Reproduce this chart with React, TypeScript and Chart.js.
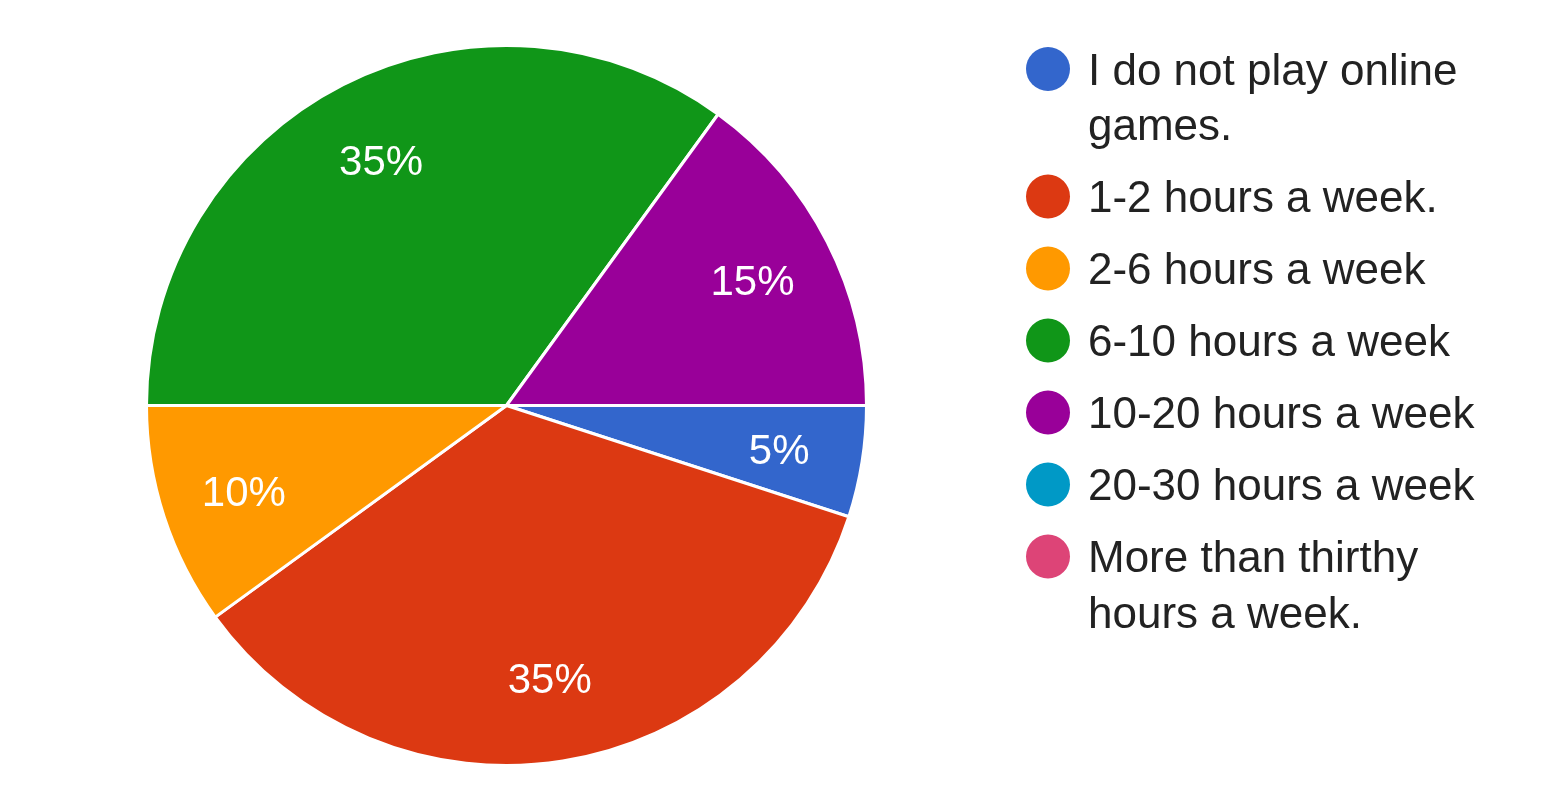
import React, { useEffect, useRef } from "react";
import { Chart, registerables } from "chart.js";

Chart.register(...registerables);

const categories: string[] = [
  "I do not play online games.",
  "1-2 hours a week.",
  "2-6 hours a week",
  "6-10 hours a week",
  "10-20 hours a week",
  "20-30 hours a week",
  "More than thirthy hours a week.",
];
const values: number[] = [5, 35, 10, 35, 15, 0, 0];
const colors: string[] = ["#3366CC", "#DC3912", "#FF9900", "#109618", "#990099", "#0099C6", "#DD4477"];

const FONT = '"Liberation Sans", Arial, Helvetica, sans-serif';

function wrap(ctx: CanvasRenderingContext2D, text: string, maxW: number): string[] {
  const words = text.split(" ");
  const lines: string[] = [];
  let cur = "";
  for (const w of words) {
    const test = cur ? cur + " " + w : w;
    if (ctx.measureText(test).width > maxW && cur) {
      lines.push(cur);
      cur = w;
    } else cur = test;
  }
  if (cur) lines.push(cur);
  return lines;
}

const labelPlugin = {
  id: "sliceLabels",
  afterDatasetsDraw(chart: any) {
    const ctx = chart.ctx as CanvasRenderingContext2D;
    const meta = chart.getDatasetMeta(0);
    const data = chart.data.datasets[0].data as number[];
    const total = data.reduce((a, b) => a + b, 0);
    const fs = 42;
    ctx.save();
    ctx.font = `${fs}px ${FONT}`;
    ctx.fillStyle = "#ffffff";
    ctx.textAlign = "center";
    ctx.textBaseline = "alphabetic";
    meta.data.forEach((arc: any, i: number) => {
      const v = data[i];
      if (!v) return;
      const { x, y, startAngle, endAngle, outerRadius } = arc.getProps(
        ["x", "y", "startAngle", "endAngle", "outerRadius"],
        true
      );
      const mid = (startAngle + endAngle) / 2;
      const r = outerRadius * 0.767;
      ctx.fillText(
        Math.round((v / total) * 100) + "%",
        x + Math.cos(mid) * r,
        y + Math.sin(mid) * r + fs * 0.358
      );
    });
    ctx.restore();
  },
};

const legendPlugin = {
  id: "sideLegend",
  afterDraw(chart: any) {
    const ctx = chart.ctx as CanvasRenderingContext2D;
    const fs = 44;
    ctx.save();
    ctx.font = `${fs}px ${FONT}`;
    ctx.textAlign = "left";
    ctx.textBaseline = "alphabetic";
    let y = 61;
    const dotX = 1040;
    const textX = 1080;
    categories.forEach((c, i) => {
      ctx.fillStyle = colors[i];
      ctx.beginPath();
      ctx.arc(dotX, y, 22, 0, Math.PI * 2);
      ctx.fill();
      ctx.fillStyle = "#222222";
      const lines = wrap(ctx, c, 400);
      lines.forEach((ln, j) => {
        ctx.fillText(ln, textX, y + j * 55.5 + fs * 0.358);
      });
      y += (lines.length - 1) * 55.5 + 72;
    });
    ctx.restore();
  },
};

export default function App() {
  const ref = useRef<HTMLCanvasElement | null>(null);
  useEffect(() => {
    if (!ref.current) return;
    const chart = new Chart(ref.current, {
      type: "pie",
      data: {
        labels: categories,
        datasets: [
          {
            data: values,
            backgroundColor: colors,
            borderColor: "#ffffff",
            borderWidth: 3,
          },
        ],
      },
      options: {
        animation: false,
        responsive: false,
        rotation: 90,
        layout: { padding: { top: 36, bottom: 18, left: 137, right: 685 } },
        plugins: {
          legend: { display: false },
          tooltip: { enabled: false },
          title: { display: false },
        },
      },
      plugins: [labelPlugin, legendPlugin],
    });
    return () => chart.destroy();
  }, []);
  return (
    <div style={{ width: 1545, height: 777 }}>
      <canvas ref={ref} width={1545} height={777} style={{ width: 1545, height: 777, display: "block" }} />
    </div>
  );
}
